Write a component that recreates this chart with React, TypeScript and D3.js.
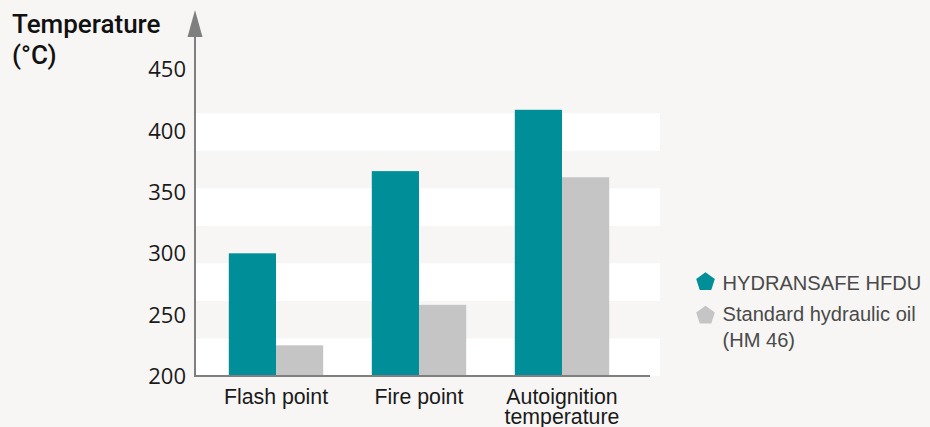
import React from "react";
import * as d3 from "d3";

const categories: string[][] = [["Flash point"], ["Fire point"], ["Autoignition", "temperature"]];
const seriesNames: string[] = ["HYDRANSAFE HFDU", "Standard hydraulic oil"];
const legendLines: string[][] = [["HYDRANSAFE HFDU"], ["Standard hydraulic oil", "(HM 46)"]];
const hfduValues: number[] = [300, 367, 417];
const mineralValues: number[] = [225, 258, 362];
const yTicks: number[] = [200, 250, 300, 350, 400, 450];

const COLORS = ["#008f99", "#c5c5c5"];
const BG = "#f7f6f4";
const AXIS = "#7f7f7f";

const W = 930;
const H = 427;

// background stripes, in data units from the baseline
const stripeStep = 30.6;
const stripeCount = 7;

export default function App() {
    const catKeys: string[] = categories.map(c => c.join(" "));

    const y = d3.scaleLinear().domain([200, 450]).range([376, 69.3]);
    const x = d3.scaleBand<string>()
        .domain(catKeys)
        .range([204.5, 633.5])
        .paddingInner(0.34)
        .paddingOuter(0.17);
    const xs = d3.scaleBand<string>()
        .domain(seriesNames)
        .range([0, x.bandwidth()]);

    const series: number[][] = [hfduValues, mineralValues];

    const axisX = 195;
    const plotRight = 660;

    const stripes = d3.range(stripeCount).map(i => ({
        y0: y(200 + i * stripeStep),
        y1: y(200 + (i + 1) * stripeStep),
        white: i % 2 === 0,
    }));

    const pentagon = (cx: number, cy: number, r: number): string => {
        const pts = d3.range(5).map(i => {
            const a = -Math.PI / 2 + i * 2 * Math.PI / 5;
            return [cx + r * Math.cos(a), cy + r * Math.sin(a)] as [number, number];
        });
        return d3.line()(pts)! + "Z";
    };

    const legendY = [282, 315.5];
    const legendTextY = [289.5, 321];

    return (
        <svg
            width={W}
            height={H}
            style={{ position: "absolute", left: 0, top: 0, display: "block" }}
            fontFamily="'Liberation Sans', Arial, sans-serif"
        >
            <rect x={0} y={0} width={W} height={H} fill={BG} />

            {stripes.map((s, i) => s.white && (
                <rect key={i} x={axisX} y={s.y1} width={plotRight - axisX} height={s.y0 - s.y1} fill="#ffffff" />
            ))}

            {/* bars */}
            {series.map((vals, si) => (
                <g key={si}>
                    {vals.map((v, ci) => (
                        <rect
                            key={ci}
                            x={x(catKeys[ci])! + xs(seriesNames[si])!}
                            y={y(v)}
                            width={xs.bandwidth()}
                            height={y(200) - y(v)}
                            fill={COLORS[si]}
                        />
                    ))}
                </g>
            ))}

            {/* axes */}
            <line x1={axisX} x2={axisX} y1={36} y2={y(200) + 1} stroke={AXIS} strokeWidth={2} />
            <path d={`M${axisX},10 L${axisX - 7.5},37 L${axisX + 7.5},37 Z`} fill={AXIS} />
            <line x1={axisX - 1} x2={650} y1={y(200)} y2={y(200)} stroke={AXIS} strokeWidth={2} />

            {/* y ticks */}
            {yTicks.map(t => (
                <text
                    key={t}
                    x={186}
                    y={y(t)}
                    dy="0.36em"
                    textAnchor="end"
                    fontFamily="'Open Sans', sans-serif"
                    fontSize={22}
                    fill="#1a1a1a"
                >{t}</text>
            ))}

            {/* category labels */}
            {categories.map((lines, ci) => (
                <text
                    key={ci}
                    x={x(catKeys[ci])! + x.bandwidth() / 2}
                    y={403.5}
                    textAnchor="middle"
                    fontSize={21.3}
                    fill="#1a1a1a"
                >
                    {lines.map((l, li) => (
                        <tspan key={li} x={x(catKeys[ci])! + x.bandwidth() / 2} dy={li === 0 ? 0 : 20.5}>{l}</tspan>
                    ))}
                </text>
            ))}

            {/* axis title */}
            <text x={12} y={33} fontFamily="Roboto, 'Liberation Sans', sans-serif" fontSize={26} fontWeight={500} fill="#111">
                <tspan x={12}>Temperature</tspan>
                <tspan x={12} dy={31}>(°C)</tspan>
            </text>

            {/* legend */}
            {legendLines.map((lines, i) => (
                <g key={i}>
                    <path d={pentagon(705.5, legendY[i], 9.8)} fill={COLORS[i]} />
                    <text x={722.5} y={legendTextY[i]} fontSize={20.1} fill="#4a4a4a">
                        {lines.map((l, li) => (
                            <tspan key={li} x={722.5} dy={li === 0 ? 0 : 26}>{l}</tspan>
                        ))}
                    </text>
                </g>
            ))}
        </svg>
    );
}
